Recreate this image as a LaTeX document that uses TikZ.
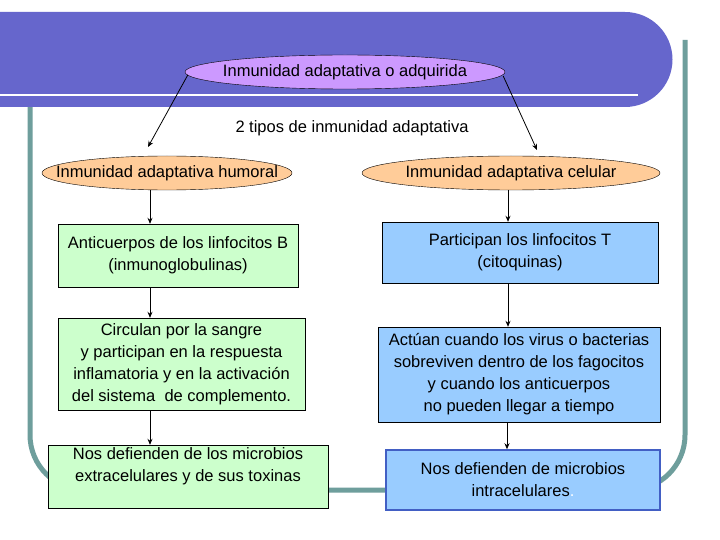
\documentclass[tikz,border=0pt]{standalone}
\usepackage{fontspec}
\setmainfont{Liberation Sans}
\usetikzlibrary{shapes.geometric,arrows.meta}
\definecolor{band}{HTML}{6666CC}
\definecolor{frame}{HTML}{6E9E9C}
\definecolor{vio}{HTML}{CC99FF}
\definecolor{ora}{HTML}{FFCC99}
\definecolor{grn}{HTML}{CCFFCC}
\definecolor{blu}{HTML}{99CCFF}
\begin{document}
\begin{tikzpicture}[x=1pt,y=-1pt,font=\fontsize{16.5}{22}\selectfont,
  ell/.style={ellipse,draw=black,thin,inner sep=0pt},
  box/.style={draw=black,thin,align=center,inner sep=0pt},
  arr/.style={-{Stealth[length=6pt,width=5pt]},thick}]
\useasboundingbox (0,0) rectangle (720,540);
\fill[white] (0,0) rectangle (720,540);
% frame
\draw[frame,line width=5pt,rounded corners=55] (30,100) -- (30,490) -- (685,490) -- (685,40);
% band
\fill[band] (0,12) -- (625,12) arc[start angle=-90,end angle=90,radius=47.5] -- (0,107) -- cycle;
\draw[white,line width=2.5pt] (0,95) -- (638,95);
% nodes
\node[ell,fill=vio,minimum width=320,minimum height=34,label=center:{Inmunidad adaptativa o adquirida}] (top) at (345,72) {};
\node (lab) at (352,128) {2 tipos de inmunidad adaptativa};
\node[ell,fill=ora,minimum width=250,minimum height=34,label=center:{Inmunidad adaptativa humoral}] (hum) at (167,173) {};
\node[ell,fill=ora,minimum width=298,minimum height=34,label=center:{Inmunidad adaptativa celular}] (cel) at (511,173) {};
\node[box,fill=grn,minimum width=240,minimum height=63] (l1) at (178,255.5) {Anticuerpos de los linfocitos B\\(inmunoglobulinas)};
\node[box,fill=blu,minimum width=276,minimum height=61] (r1) at (520,252.5) {Participan los linfocitos T\\(citoquinas)};
\node[box,fill=grn,minimum width=247,minimum height=92] (l2) at (181.5,364) {Circulan por la sangre\\y participan en la respuesta\\inflamatoria y en la activación\\del sistema\ \ de complemento.};
\node[box,fill=blu,minimum width=282,minimum height=95] (r2) at (519,374.5) {Actúan cuando los virus o bacterias\\sobreviven dentro de los fagocitos\\y cuando los anticuerpos\\no pueden llegar a tiempo};
\node[box,fill=grn,minimum width=280,minimum height=63,text depth=24pt] (l3) at (188,476.5) {Nos defienden de los microbios\\extracelulares y de sus toxinas};
\node[box,draw=frame!60!blue,line width=1.5pt,fill=blu,minimum width=274,minimum height=60] (r3) at (523,480) {Nos defienden de microbios\\intracelulares\textcolor{white}{.}};
% arrows
\draw[arr] (top.west) ++(3,3) -- (148,147);
\draw[arr] (top.east) ++(-2,4) -- (537,150);
\draw[arr] (150,190) -- (l1.north -| 150,0);
\draw[arr] (508,190) -- (r1.north -| 508,0);
\draw[arr] (l1.south -| 150,0) -- (l2.north -| 150,0);
\draw[arr] (r1.south -| 508,0) -- (r2.north -| 508,0);
\draw[arr] (l2.south -| 150,0) -- (l3.north -| 150,0);
\draw[arr] (r2.south -| 507,0) -- (r3.north -| 507,0);
\end{tikzpicture}
\end{document}
